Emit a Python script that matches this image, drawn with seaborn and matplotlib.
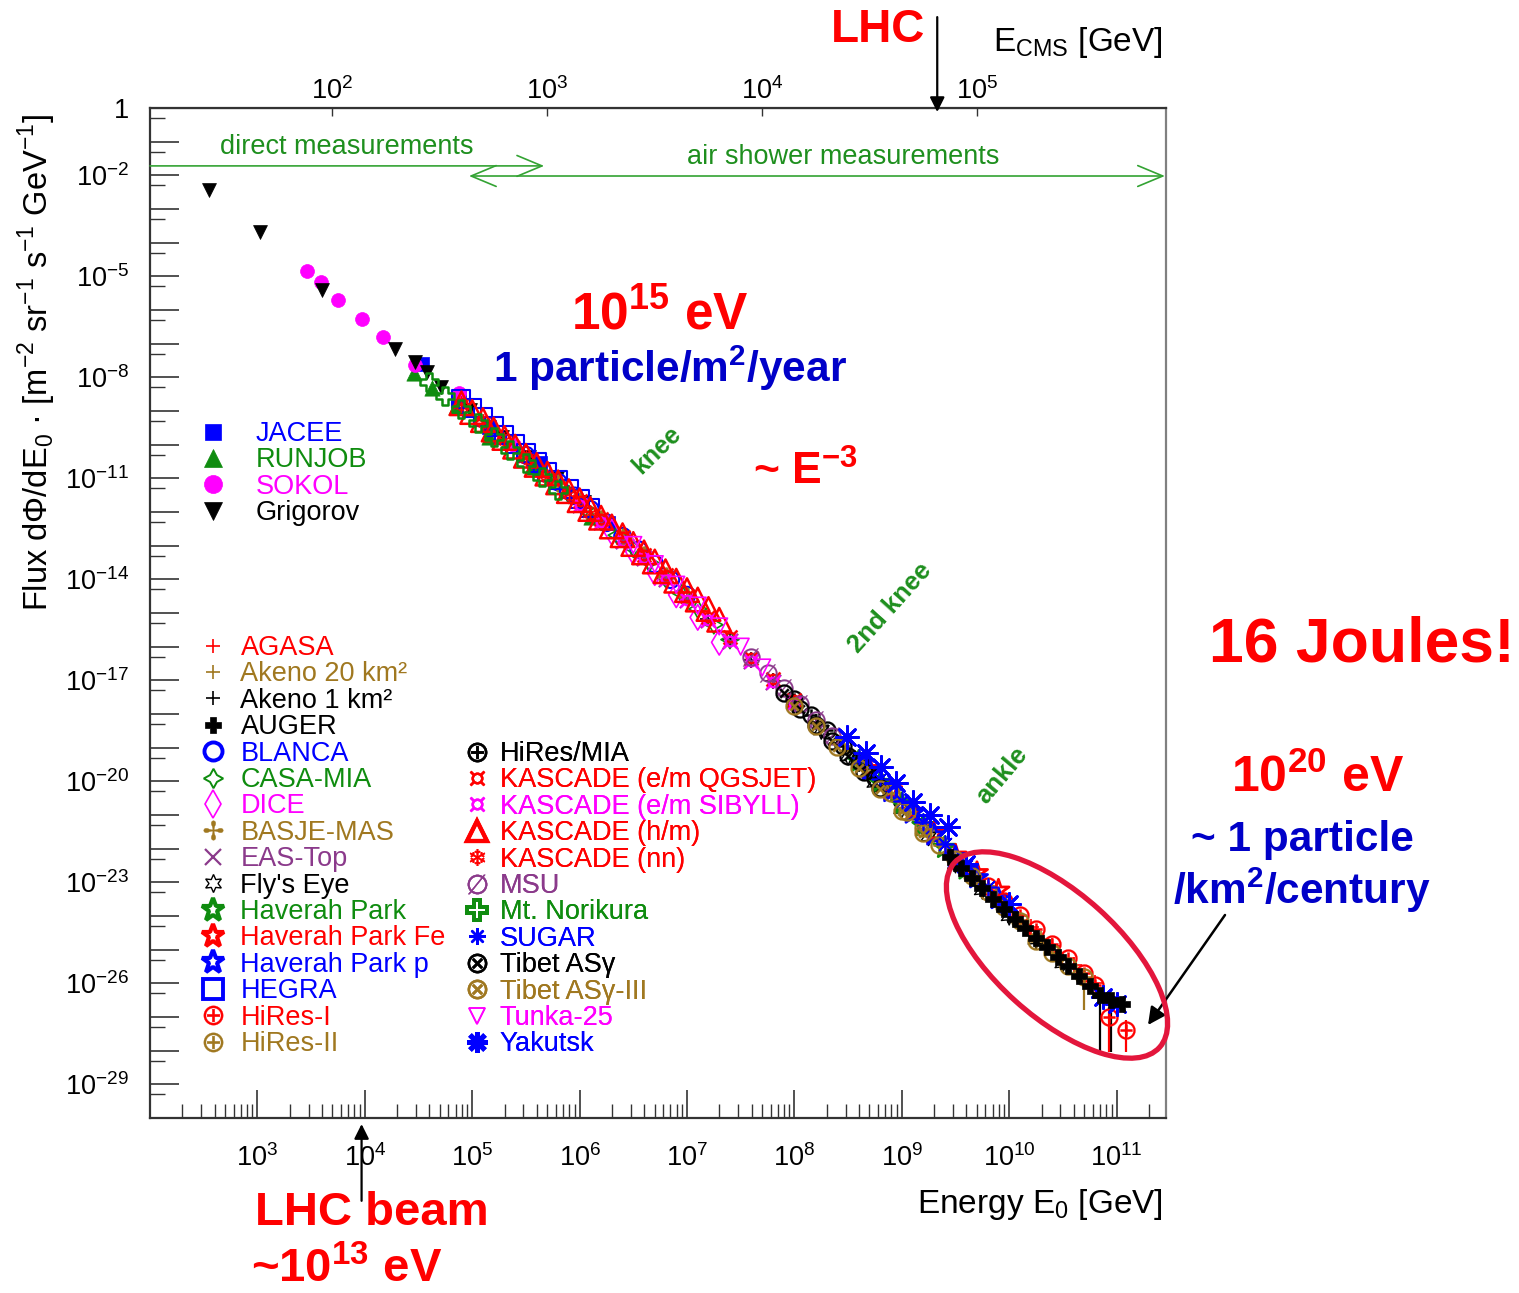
import numpy as np
import matplotlib
matplotlib.use("Agg")
import matplotlib.pyplot as plt
import matplotlib.transforms as mtrans
from matplotlib.lines import Line2D
from matplotlib.patches import Ellipse
from matplotlib.ticker import LogLocator, FuncFormatter, NullLocator
import seaborn as sns

# ---------------------------------------------------------------
# data: log10(E0 / GeV) and log10(flux)
# ---------------------------------------------------------------
# direct measurements
jacee_logE = [4.53, 4.88, 5.16, 5.63, 6.26]
jacee_logF = [-7.61, -8.62, -9.48, -10.55, -12.33]
runjob_logE = [4.46, 4.63, 4.85, 5.16, 5.56, 6.11]
runjob_logF = [-7.88, -8.32, -8.89, -9.78, -10.67, -12.16]
sokol_logE = [3.46, 3.59, 3.75, 3.97, 4.17, 4.47, 4.88, 5.39]
sokol_logF = [-4.84, -5.17, -5.71, -6.27, -6.81, -7.64, -8.47, -10.02]
grigorov_logE = [2.55, 3.02, 3.60, 4.28, 4.47, 4.58, 4.71, 4.98, 5.28, 5.53, 5.79, 6.04]
grigorov_logF = [-2.44, -3.68, -5.41, -7.16, -7.55, -7.85, -8.29, -8.98, -9.78, -10.37, -11.00, -11.71]

# air shower measurements
agasa_logE = [8.6, 8.8, 9.0, 9.2, 9.4, 9.6, 9.8, 10.0, 10.2, 10.4, 10.6, 10.8, 11.0]
agasa_logF = [-19.36, -19.99, -20.62, -21.27, -21.92, -22.56, -23.18, -23.78, -24.34, -24.90, -25.45, -26.00, -26.55]
akeno20_logE = [8.5, 8.7, 8.9, 9.1, 9.3, 9.5, 9.7, 9.9, 10.1, 10.3]
akeno20_logF = [-19.10, -19.73, -20.36, -21.00, -21.65, -22.30, -22.92, -23.54, -24.13, -24.69]
akeno1_logE = [6.6, 6.8, 7.0, 7.2, 7.4, 7.6, 7.8, 8.0, 8.2, 8.4, 8.6]
akeno1_logF = [-13.33, -13.94, -14.55, -15.17, -15.77, -16.39, -17.01, -17.63, -18.25, -18.87, -19.49]
auger_logE = [9.45, 9.55, 9.65, 9.75, 9.85, 9.95, 10.05, 10.15, 10.25, 10.35, 10.45, 10.55, 10.65, 10.75, 10.85, 10.95, 11.05]
auger_logF = [-22.24, -22.56, -22.87, -23.18, -23.49, -23.80, -24.09, -24.37, -24.65, -24.93, -25.21, -25.49, -25.77, -26.07, -26.35, -26.50, -26.60]
blanca_logE = [5.5, 5.65, 5.8, 5.95, 6.1, 6.25, 6.4, 6.55, 6.7, 6.85, 7.0]
blanca_logF = [-10.31, -10.72, -11.11, -11.52, -11.92, -12.32, -12.72, -13.12, -13.55, -14.01, -14.47]
casamia_logE = [5.9, 6.05, 6.2, 6.35, 6.5, 6.65, 6.8, 6.95, 7.1, 7.25, 7.4]
casamia_logF = [-11.48, -11.89, -12.28, -12.69, -13.08, -13.50, -13.96, -14.42, -14.88, -15.35, -15.79]
dice_logE = [6.3, 6.5, 6.7, 6.9, 7.1, 7.3]
dice_logF = [-12.60, -13.18, -13.80, -14.46, -15.13, -15.87]
basje_logE = [5.8, 6.0, 6.2, 6.4, 6.6, 6.8, 7.0]
basje_logF = [-11.14, -11.68, -12.21, -12.75, -13.28, -13.89, -14.50]
eastop_logE = [6.0, 6.2, 6.4, 6.6, 6.8, 7.0, 7.2, 7.4, 7.6, 7.8]
eastop_logF = [-11.78, -12.31, -12.85, -13.38, -13.99, -14.60, -15.22, -15.82, -16.44, -17.06]
flyseye_logE = [8.0, 8.25, 8.5, 8.75, 9.0, 9.25, 9.5, 9.75, 10.0, 10.25, 10.5]
flyseye_logF = [-17.70, -18.48, -19.25, -20.04, -20.82, -21.64, -22.45, -23.23, -24.00, -24.70, -25.40]
hp_logE = [8.6, 8.8, 9.0, 9.2, 9.4, 9.6]
hp_logF = [-19.41, -20.04, -20.67, -21.32, -21.97, -22.61]
hpfe_logE = [8.7, 8.9, 9.1, 9.3, 9.5, 9.7, 9.9]
hpfe_logF = [-19.63, -20.26, -20.90, -21.55, -22.20, -22.72, -23.24]
hpp_logE = [8.7, 8.9, 9.1, 9.3, 9.5, 9.7, 9.9]
hpp_logF = [-19.68, -20.31, -20.95, -21.60, -22.25, -22.87, -23.49]
hegra_logE = [4.9, 5.0, 5.1, 5.2, 5.3, 5.4, 5.5, 5.6, 5.7, 5.8, 5.9, 6.0, 6.1]
hegra_logF = [-8.65, -8.92, -9.19, -9.46, -9.72, -9.99, -10.26, -10.53, -10.80, -11.06, -11.33, -11.60, -11.87]
hires1_logE = [9.8, 9.95, 10.1, 10.25, 10.4, 10.55, 10.7, 10.8, 10.93, 11.09]
hires1_logF = [-23.10, -23.55, -23.98, -24.40, -24.82, -25.24, -25.70, -26.05, -27.00, -27.40]
hires2_logE = [8.9, 9.05, 9.2, 9.35, 9.5, 9.65, 9.8, 9.95, 10.1, 10.25, 10.4, 10.55, 10.7]
hires2_logF = [-20.36, -20.90, -21.40, -21.90, -22.30, -22.80, -23.30, -23.72, -24.15, -24.75, -25.10, -25.50, -25.80]
hiresmia_logE = [8.0, 8.15, 8.3, 8.45, 8.6, 8.75]
hiresmia_logF = [-17.55, -18.02, -18.48, -18.95, -19.41, -19.89]
kasq_logE = [6.0, 6.2, 6.4, 6.6, 6.8, 7.0, 7.2, 7.4, 7.6, 7.8, 8.0]
kasq_logF = [-11.67, -12.20, -12.74, -13.27, -13.88, -14.49, -15.11, -15.71, -16.33, -16.95, -17.57]
kass_logE = [6.0, 6.2, 6.4, 6.6, 6.8, 7.0, 7.2, 7.4, 7.6, 7.8, 8.0]
kass_logF = [-11.78, -12.31, -12.85, -13.38, -13.99, -14.60, -15.22, -15.82, -16.44, -17.06, -17.68]
kashm_logE = [4.9, 5.0, 5.1, 5.2, 5.3, 5.4, 5.5, 5.6, 5.7, 5.8, 5.9, 6.0, 6.1,
              6.2, 6.3, 6.4, 6.5, 6.6, 6.7, 6.8, 6.9, 7.0, 7.1, 7.2, 7.3]
kashm_logF = [-8.77, -9.03, -9.27, -9.55, -9.80, -10.06, -10.33, -10.60, -10.86, -11.12, -11.38, -11.65, -11.91,
              -12.17, -12.43, -12.69, -12.95, -13.20, -13.47, -13.76, -14.04, -14.32, -14.60, -14.88, -15.20]
kasnn_logE = [4.9, 5.1, 5.3, 5.5, 5.7, 5.9, 6.1]
kasnn_logF = [-8.80, -9.34, -9.87, -10.41, -10.95, -11.48, -12.02]
msu_logE = [7.6, 7.75, 7.9, 8.05, 8.2, 8.35]
msu_logF = [-16.31, -16.78, -17.24, -17.71, -18.17, -18.64]
norikura_logE = [4.6, 4.75, 4.9, 5.05, 5.2, 5.35, 5.5, 5.65, 5.8]
norikura_logF = [-8.15, -8.55, -8.95, -9.35, -9.76, -10.15, -10.55, -10.95, -11.35]
sugar_logE = [8.6, 8.8, 9.0, 9.2, 9.4, 9.6, 9.8]
sugar_logF = [-19.31, -19.94, -20.57, -21.22, -21.87, -22.51, -23.13]
tibet_logE = [7.9, 8.05, 8.2, 8.35, 8.5, 8.65, 8.8]
tibet_logF = [-17.39, -17.86, -18.32, -18.79, -19.25, -19.72, -20.19]
tibet3_logE = [8.0, 8.2, 8.4, 8.6, 8.8, 9.0, 9.2]
tibet3_logF = [-17.75, -18.37, -18.99, -19.61, -20.24, -20.87, -21.52]
tunka_logE = [6.5, 6.7, 6.9, 7.1, 7.3, 7.5, 7.7]
tunka_logF = [-12.98, -13.55, -14.16, -14.78, -15.40, -16.00, -16.62]
yakutsk_logE = [8.49, 8.67, 8.81, 8.95, 9.10, 9.26, 9.43, 9.6, 10.0, 10.87, 11.0]
yakutsk_logF = [-18.69, -19.17, -19.58, -20.06, -20.62, -21.01, -21.37, -22.45, -23.65, -26.41, -26.60]

# lower error bars at the highest energies (logE, low, high)
auger_err = ([10.85, 10.95], [-28.05, -28.05], [-26.20, -26.35])
hires1_err = ([10.93, 11.09], [-28.05, -28.05], [-26.70, -27.10])
hires2_err = ([10.70], [-26.80], [-25.55])

direct_sets = [
    ("JACEE", jacee_logE, jacee_logF),
    ("RUNJOB", runjob_logE, runjob_logF),
    ("SOKOL", sokol_logE, sokol_logF),
    ("Grigorov", grigorov_logE, grigorov_logF),
]
shower_col1 = [
    ("AGASA", agasa_logE, agasa_logF),
    ("Akeno 20 km²", akeno20_logE, akeno20_logF),
    ("Akeno 1 km²", akeno1_logE, akeno1_logF),
    ("AUGER", auger_logE, auger_logF),
    ("BLANCA", blanca_logE, blanca_logF),
    ("CASA-MIA", casamia_logE, casamia_logF),
    ("DICE", dice_logE, dice_logF),
    ("BASJE-MAS", basje_logE, basje_logF),
    ("EAS-Top", eastop_logE, eastop_logF),
    ("Fly's Eye", flyseye_logE, flyseye_logF),
    ("Haverah Park", hp_logE, hp_logF),
    ("Haverah Park Fe", hpfe_logE, hpfe_logF),
    ("Haverah Park p", hpp_logE, hpp_logF),
    ("HEGRA", hegra_logE, hegra_logF),
    ("HiRes-I", hires1_logE, hires1_logF),
    ("HiRes-II", hires2_logE, hires2_logF),
]
shower_col2 = [
    ("HiRes/MIA", hiresmia_logE, hiresmia_logF),
    ("KASCADE (e/m QGSJET)", kasq_logE, kasq_logF),
    ("KASCADE (e/m SIBYLL)", kass_logE, kass_logF),
    ("KASCADE (h/m)", kashm_logE, kashm_logF),
    ("KASCADE (nn)", kasnn_logE, kasnn_logF),
    ("MSU", msu_logE, msu_logF),
    ("Mt. Norikura", norikura_logE, norikura_logF),
    ("SUGAR", sugar_logE, sugar_logF),
    ("Tibet ASγ", tibet_logE, tibet_logF),
    ("Tibet ASγ-III", tibet3_logE, tibet3_logF),
    ("Tunka-25", tunka_logE, tunka_logF),
    ("Yakutsk", yakutsk_logE, yakutsk_logF),
]

# ---------------------------------------------------------------
# styles
# ---------------------------------------------------------------
RED, BROWN, BLACK = "#ff0000", "#a07820", "#000000"
BLUE, GREEN, MAGENTA, PURPLE = "#0000ff", "#0f8c0f", "#ff00ff", "#8b3a8b"
TXT_GREEN, TXT_BLUE = "#1e8f1e", "#0000c8"

# marker, color, kind, size (pt), line width, legend size, legend line width
styles = {
    "JACEE": ("s", BLUE, "solid", 10, 0.5, 12, 0.5),
    "RUNJOB": ("^", GREEN, "solid", 11, 0.5, 13, 0.5),
    "SOKOL": ("o", MAGENTA, "solid", 10, 0.5, 13, 0.5),
    "Grigorov": ("v", BLACK, "solid", 10, 0.5, 13, 0.5),
    "AGASA": ("+", RED, "line", 11, 1.2, 10, 1.2),
    "Akeno 20 km²": ("+", BROWN, "line", 11, 1.2, 10, 1.2),
    "Akeno 1 km²": ("+", BLACK, "line", 11, 1.2, 10, 1.2),
    "AUGER": ("P", BLACK, "solid", 12, 0.5, 12, 0.5),
    "BLANCA": ("o", BLUE, "open", 12, 1.5, 13, 2.8),
    "CASA-MIA": ((4, 1, 0), GREEN, "open", 13, 1.2, 14, 1.4),
    "DICE": ("d", MAGENTA, "open", 13, 1.2, 14, 1.2),
    "BASJE-MAS": ("$✢$", BROWN, "text", 13, 0.3, 14, 0.3),
    "EAS-Top": ("x", PURPLE, "line", 11, 1.5, 12, 1.6),
    "Fly's Eye": ((6, 1, 0), BLACK, "open", 13, 1.0, 13, 1.0),
    "Haverah Park": ("*", GREEN, "open", 16, 2.0, 17, 3.0),
    "Haverah Park Fe": ("*", RED, "open", 16, 2.0, 17, 3.0),
    "Haverah Park p": ("*", BLUE, "open", 16, 2.0, 17, 3.0),
    "HEGRA": ("s", BLUE, "open", 13, 1.5, 14, 2.8),
    "HiRes-I": (r"$\oplus$", RED, "text", 13, 0.2, 14, 0.2),
    "HiRes-II": (r"$\oplus$", BROWN, "text", 13, 0.2, 14, 0.2),
    "HiRes/MIA": (r"$\oplus$", BLACK, "text", 13, 0.2, 14, 0.2),
    "KASCADE (e/m QGSJET)": ("$¤$", RED, "text", 11, 0.2, 11, 0.2),
    "KASCADE (e/m SIBYLL)": ("$¤$", MAGENTA, "text", 11, 0.2, 11, 0.2),
    "KASCADE (h/m)": ("^", RED, "open", 17, 1.8, 15, 3.0),
    "KASCADE (nn)": ("$❄$", RED, "text", 12, 0.2, 12, 0.2),
    "MSU": (r"$\emptyset$", PURPLE, "text", 13, 0.2, 14, 0.2),
    "Mt. Norikura": ("P", GREEN, "open", 13, 1.8, 15, 2.8),
    "SUGAR": ((8, 2, 0), BLUE, "line", 12, 1.2, 12, 1.6),
    "Tibet ASγ": (r"$\otimes$", BLACK, "text", 13, 0.2, 14, 0.2),
    "Tibet ASγ-III": (r"$\otimes$", BROWN, "text", 13, 0.2, 14, 0.2),
    "Tunka-25": ("v", MAGENTA, "open", 12, 1.2, 12, 1.2),
    "Yakutsk": ((8, 2, 0), BLUE, "line", 16, 2.0, 15, 3.5),
}
# Auger points sit on top of the others inside the highlighted region
on_top = {"AUGER": 4}

sns.set_style("white")
plt.rcParams["font.family"] = ["Liberation Sans", "DejaVu Sans"]
plt.rcParams["mathtext.fontset"] = "dejavusans"
plt.rcParams["text.color"] = "black"
plt.rcParams["xtick.color"] = "black"
plt.rcParams["ytick.color"] = "black"

W, H = 1519, 1293
fig = plt.figure(figsize=(W / 100, H / 100), dpi=100)
ax = fig.add_axes([150 / W, 1 - 1118 / H, (1166 - 150) / W, (1118 - 108) / H])


def draw(name, logE, logF):
    marker, c, kind, ms, lw, _, _ = styles[name]
    kw = dict(x=10.0 ** np.asarray(logE), y=10.0 ** np.asarray(logF), ax=ax,
              marker=marker, s=ms ** 2, linewidth=lw, zorder=on_top.get(name, 3))
    if kind == "solid" or kind == "text":
        kw.update(facecolor=c, edgecolor=c)
    elif kind == "open":
        kw.update(facecolor="none", edgecolor=c)
    else:
        kw.update(color=c)
    sns.scatterplot(**kw)


def errbars(err, color):
    e, lo, hi = (np.asarray(v) for v in err)
    ax.vlines(10.0 ** e, 10.0 ** lo, 10.0 ** hi, colors=color, lw=1.6, zorder=2)


for name, lx, ly in direct_sets + shower_col1 + shower_col2:
    draw(name, lx, ly)
errbars(auger_err, BLACK)
errbars(hires1_err, RED)
errbars(hires2_err, BROWN)

# ---------------------------------------------------------------
# axes
# ---------------------------------------------------------------
ax.set_xscale("log")
ax.set_yscale("log")
ax.set_xlim(10 ** 2.0, 10 ** 11.46)
ax.set_ylim(1e-30, 1)

ax.xaxis.set_major_locator(LogLocator(base=10, numticks=40))
ax.xaxis.set_minor_locator(LogLocator(base=10, subs=np.arange(2, 10), numticks=300))
ax.yaxis.set_major_locator(LogLocator(base=10, numticks=60))
ax.yaxis.set_minor_locator(LogLocator(base=10, subs=(5.0,), numticks=300))


def xfmt(v, pos):
    e = int(round(np.log10(v)))
    return r"$\mathregular{10^{%d}}$" % e if 3 <= e <= 11 else ""


def yfmt(v, pos):
    e = int(round(np.log10(v)))
    if e == 0:
        return "1"
    return r"$\mathregular{10^{%d}}$" % e if (e + 2) % 3 == 0 else ""


ax.xaxis.set_major_formatter(FuncFormatter(xfmt))
ax.yaxis.set_major_formatter(FuncFormatter(yfmt))
ax.tick_params(axis="x", which="major", direction="in", length=20, width=1.2,
               pad=19, labelsize=19.5, bottom=True, top=False, color="#333333", labelcolor="black")
ax.tick_params(axis="x", which="minor", direction="in", length=10, width=1.0,
               bottom=True, top=False, color="#333333")
ax.tick_params(axis="y", which="major", direction="in", length=21, width=1.2,
               pad=15, labelsize=19.5, left=True, right=False, color="#333333", labelcolor="black")
ax.tick_params(axis="y", which="minor", direction="in", length=10.5, width=1.0,
               left=True, right=False, color="#333333")
for side, sp in ax.spines.items():
    sp.set_color("#333333" if side != "right" else "#808080")
    sp.set_linewidth(1.6)

sec = ax.secondary_xaxis("top", functions=(lambda e: np.sqrt(2.0 * np.clip(e, 1e-300, None)),
                                           lambda ec: ec ** 2 / 2.0))
sec.set_xticks([1e2, 1e3, 1e4, 1e5])
sec.xaxis.set_major_formatter(FuncFormatter(lambda v, p: r"$\mathregular{10^{%d}}$" % round(np.log10(v))))
sec.xaxis.set_minor_locator(NullLocator())
sec.tick_params(direction="in", length=6, width=1.0, pad=2, labelsize=19.5, top=True,
                color="#333333", labelcolor="black")
sec.spines["top"].set_color("#333333")

# ---------------------------------------------------------------
# legends
# ---------------------------------------------------------------


def handle(name):
    marker, c, kind, _, _, lms, llw = styles[name]
    fc = "none" if kind == "open" else c
    return Line2D([], [], ls="none", marker=marker, ms=lms, mfc=fc, mec=c, mew=llw, label=name)


def legend(sets, x0, ytop, pad):
    hs = [handle(n) for n, _, _ in sets]
    cols = [styles[n][1] for n, _, _ in sets]
    lg = ax.legend(handles=hs, loc="upper left", bbox_to_anchor=(x0 / W, 1 - ytop / H),
                   bbox_transform=fig.transFigure, frameon=False, fontsize=19.5,
                   labelcolor=cols, handlelength=0.8, handletextpad=pad,
                   labelspacing=0.015, borderpad=0, borderaxespad=0)
    ax.add_artist(lg)


legend(direct_sets, 202, 421, 1.19)
legend(shower_col1, 202, 635, 0.62)
legend(shower_col2, 466, 741, 0.45)

# ---------------------------------------------------------------
# annotations
# ---------------------------------------------------------------


def ptext(x, y, s, **kw):
    kw.setdefault("ha", "center")
    kw.setdefault("va", "center")
    fig.text(x / W, 1 - y / H, s, **kw)


arrow_green = "#33a333"
ax.annotate("", xy=(10 ** 5.67, 10 ** -1.72), xytext=(10 ** 2.0, 10 ** -1.72),
            arrowprops=dict(arrowstyle="->,head_length=0.6,head_width=0.25", color=arrow_green,
                            lw=1.2, shrinkA=0, shrinkB=0, mutation_scale=30), annotation_clip=False)
ax.annotate("", xy=(10 ** 11.45, 10 ** -2.02), xytext=(10 ** 4.97, 10 ** -2.02),
            arrowprops=dict(arrowstyle="<->,head_length=0.6,head_width=0.25", color=arrow_green,
                            lw=1.2, shrinkA=0, shrinkB=0, mutation_scale=30), annotation_clip=False)
ptext(220, 147, "direct measurements", ha="left", fontsize=19.5, color=TXT_GREEN)
ptext(843, 157, "air shower measurements", fontsize=19.5, color=TXT_GREEN)

# LHC markers
ax.annotate("", xy=(10 ** 9.33, 0.996), xycoords=("data", "axes fraction"),
            xytext=(10 ** 9.33, 1.09), textcoords=("data", "axes fraction"),
            arrowprops=dict(arrowstyle="-|>", color="black", lw=1.6, shrinkA=0, shrinkB=0,
                            mutation_scale=22), annotation_clip=False)
ax.annotate("", xy=(10 ** 3.97, -0.006), xycoords=("data", "axes fraction"),
            xytext=(10 ** 3.97, -0.082), textcoords=("data", "axes fraction"),
            arrowprops=dict(arrowstyle="-|>", color="black", lw=1.6, shrinkA=0, shrinkB=0,
                            mutation_scale=22), annotation_clip=False)
ptext(878, 30, "LHC", fontsize=33, fontweight="bold", color=RED)
ptext(1163, 42, r"E$_{\mathregular{CMS}}$ [GeV]", ha="right", fontsize=24)
ptext(372, 1213, "LHC beam", fontsize=34, fontweight="bold", color=RED)
ptext(347, 1270, r"~10$^{\mathregular{13}}$ eV", fontsize=34, fontweight="bold", color=RED)
ptext(1163, 1205, r"Energy E$_{\mathregular{0}}$ [GeV]", ha="right", fontsize=24)
ptext(37, 362, r"Flux dΦ/dE$_{\mathregular{0}}$ · [m$^{\mathregular{-2}}$ sr$^{\mathregular{-1}}$ "
      r"s$^{\mathregular{-1}}$ GeV$^{\mathregular{-1}}$]", rotation=90, fontsize=23.5)

ptext(660, 315, r"10$^{\mathregular{15}}$ eV", fontsize=37, fontweight="bold", color=RED)
ptext(670, 368, r"1 particle/m$^{\mathregular{2}}$/year", fontsize=30.5, fontweight="bold", color=TXT_BLUE)
ptext(657, 450, "knee", fontsize=18, fontweight="bold", color=TXT_GREEN, rotation=44)
ptext(805, 472, r"~ E$^{\mathregular{-3}}$", fontsize=32, fontweight="bold", color=RED)
ptext(890, 608, "2nd knee", fontsize=18.5, fontweight="bold", color=TXT_GREEN, rotation=48)
ptext(1002, 775, "ankle", fontsize=18.5, fontweight="bold", color=TXT_GREEN, rotation=50)

ptext(1362, 645, "16 Joules!", fontsize=45, fontweight="bold", color=RED)
ptext(1318, 778, r"10$^{\mathregular{20}}$ eV", fontsize=36, fontweight="bold", color=RED)
ptext(1302, 840, "~ 1 particle", fontsize=30.5, fontweight="bold", color=TXT_BLUE)
ptext(1302, 890, r"/km$^{\mathregular{2}}$/century", fontsize=30.5, fontweight="bold", color=TXT_BLUE)

# highlight of the highest-energy events and pointer
fig.add_artist(Ellipse((1057, H - 955), 276, 124, angle=-42, fill=False, ec="#e3163c", lw=3.8,
                       transform=mtrans.IdentityTransform()))
ax.annotate("", xy=(1148, H - 1025), xycoords="figure pixels",
            xytext=(1225, H - 915), textcoords="figure pixels",
            arrowprops=dict(arrowstyle="-|>", color="black", lw=1.8, shrinkA=0, shrinkB=0,
                            mutation_scale=26), annotation_clip=False)

fig.savefig("out.png", dpi=100)
